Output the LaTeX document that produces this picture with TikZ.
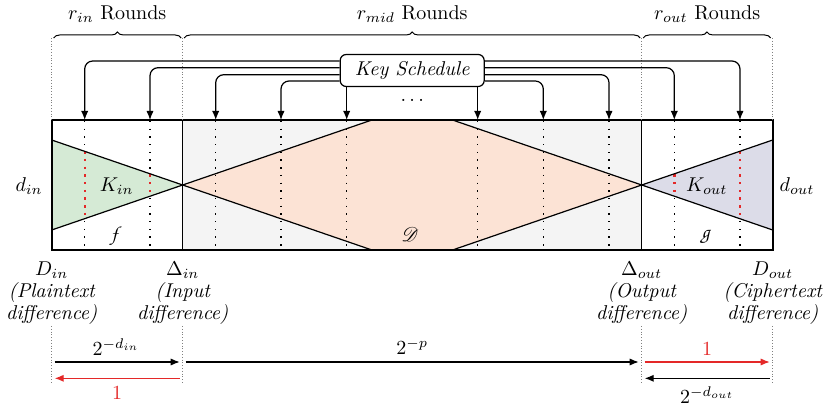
\documentclass[tikz,border=0pt]{standalone}
\usepackage{mathrsfs}
\usetikzlibrary{arrows.meta,decorations.pathreplacing,calc}
\DeclareMathAlphabet{\mathpzc}{OT1}{pzc}{m}{it}
\definecolor{midgray}{RGB}{244,244,244}
\definecolor{peach}{RGB}{252,227,213}
\definecolor{kgreen}{RGB}{213,234,213}
\definecolor{kpurple}{RGB}{220,220,232}
\definecolor{myred}{RGB}{228,40,40}
\begin{document}
\begin{tikzpicture}[x=0.5pt,y=-0.5pt,
  tipstyle/.style={-{Latex[length=4.5pt,width=3.6pt]}},
  ksarrow/.style={tipstyle, line width=0.6pt, rounded corners=4pt},
  rounddot/.style={line width=0.7pt, dash pattern=on 0.7pt off 3.15pt},
  reddot/.style={draw=myred, line width=1.2pt, dash pattern=on 1.2pt off 2.65pt, dash phase=0.25pt},
  bound/.style={gray, line width=0.4pt, densely dotted},
  bracestyle/.style={decorate, decoration={brace, amplitude=3pt}, line width=0.5pt},
  edgeline/.style={line width=0.6pt},
  expl/.style={font=\itshape, align=center, inner sep=0pt},
  barrow/.style={tipstyle, line width=0.6pt, shorten <=1.5pt, shorten >=1.5pt},
  rarrow/.style={barrow, draw=myred, color=myred},
  ]
\useasboundingbox (0,0) rectangle (824,406);
% coordinates
\coordinate (TL) at (51.7,120); \coordinate (TR) at (772.7,120);
\coordinate (BL) at (51.7,250); \coordinate (BR) at (772.7,250);
\coordinate (M1t) at (182.7,120); \coordinate (M1b) at (182.7,250);
\coordinate (M2t) at (641.7,120); \coordinate (M2b) at (641.7,250);
\coordinate (C1) at (182.7,185); \coordinate (C2) at (641.7,185);
\coordinate (Lt) at (51.7,140); \coordinate (Lb) at (51.7,230);
\coordinate (Rt) at (772.7,140); \coordinate (Rb) at (772.7,230);
\coordinate (Pt1) at (371.9,120); \coordinate (Pb1) at (371.9,250);
\coordinate (Pt2) at (452.5,120); \coordinate (Pb2) at (452.5,250);
% fills
\fill[midgray] (M1t) rectangle (M2b);
\fill[peach] (C1) -- (Pt1) -- (Pt2) -- (C2) -- (Pb2) -- (Pb1) -- cycle;
\fill[kgreen] (Lt) -- (C1) -- (Lb) -- cycle;
\fill[kpurple] (Rt) -- (C2) -- (Rb) -- cycle;
% round dotted lines
\foreach \x in {84.7,150,215.7,281,346.7,477.7,543.3,609,674.3,740}
  \draw[rounddot] (\x,121) -- (\x,250);
\begin{scope}
  \clip (Lt) -- (C1) -- (Lb) -- cycle;
  \foreach \x in {84.7,150} \draw[reddot] (\x,121) -- (\x,250);
\end{scope}
\begin{scope}
  \clip (Rt) -- (C2) -- (Rb) -- cycle;
  \foreach \x in {674.3,740} \draw[reddot] (\x,121) -- (\x,250);
\end{scope}
% crossing lines
\draw[edgeline] (Lt) -- (Pb1);
\draw[edgeline] (Lb) -- (Pt1);
\draw[edgeline] (Pt2) -- (Rb);
\draw[edgeline] (Pb2) -- (Rt);
% frame
\draw[line width=0.8pt] (TL) rectangle (BR);
\draw[line width=0.6pt] (M1t) -- (M1b);
\draw[line width=0.6pt] (M2t) -- (M2b);
% top boundaries and braces
\coordinate (B0) at (51.7,38); \coordinate (B1) at (182.7,38);
\coordinate (B2) at (641.7,38); \coordinate (B3) at (772.7,38);
\draw[bound] (B0) -- (TL);
\draw[bound] (B1) -- (M1t);
\draw[bound] (B2) -- (M2t);
\draw[bound] (B3) -- (TR);
\draw[bracestyle] ($(B0)+(2,0)$) -- ($(B1)+(-1.5,0)$);
\draw[bracestyle] ($(B1)+(1.5,0)$) -- ($(B2)+(-1.5,0)$);
\draw[bracestyle] ($(B2)+(1.5,0)$) -- ($(B3)+(-2,0)$);
\node (rin) at (117.2,14) {$r_{in}$ Rounds};
\node (rmid) at (412.2,14) {$r_{mid}$ Rounds};
\node (rout) at (707.2,14) {$r_{out}$ Rounds};
% key schedule
\node[draw, rounded corners=3pt, line width=0.6pt, minimum width=72pt, minimum height=16pt, font=\itshape, fill=white] (ks) at (412.2,70.5) {Key Schedule};
\coordinate (h1) at (0,61); \coordinate (h2) at (0,67.7);
\coordinate (h3) at (0,74.7); \coordinate (h4) at (0,81);
\coordinate (t1) at (84.7,120); \coordinate (t2) at (150,120);
\coordinate (t3) at (215.7,120); \coordinate (t4) at (281,120);
\coordinate (t5) at (346.7,120); \coordinate (t6) at (477.7,120);
\coordinate (t7) at (543.3,120); \coordinate (t8) at (609,120);
\coordinate (t9) at (674.3,120); \coordinate (t10) at (740,120);
\draw[ksarrow] (ks.west |- h1) -| (t1);
\draw[ksarrow] (ks.west |- h2) -| (t2);
\draw[ksarrow] (ks.west |- h3) -| (t3);
\draw[ksarrow] (ks.west |- h4) -| (t4);
\draw[ksarrow] (ks.south -| t5) -- (t5);
\draw[ksarrow] (ks.south -| t6) -- (t6);
\draw[ksarrow] (ks.east |- h4) -| (t7);
\draw[ksarrow] (ks.east |- h3) -| (t8);
\draw[ksarrow] (ks.east |- h2) -| (t9);
\draw[ksarrow] (ks.east |- h1) -| (t10);
\node (dots) at (412.2,100) {$\dots$};
% labels in the diagram
\node (din) at (29,186) {$d_{in}$};
\node (dout) at (797,186) {$d_{out}$};
\node (kin) at (116.7,186) {$K_{in}$};
\node (kout) at (706.7,186) {$K_{out}$};
\node (f) at (116.7,237) {$\mathpzc{f}$};
\node (g) at (706.7,237) {$\mathpzc{g}$};
\node (D) at (410,235) {$\mathscr{D}$};
% bottom labels
\node (Din) at (51.7,270) {$D_{in}$};
\node (Delin) at (182.7,270) {$\Delta_{in}$};
\node (Delout) at (641.7,270) {$\Delta_{out}$};
\node (Dout) at (772.7,270) {$D_{out}$};
\node[expl] (Dinx) at (51.7,303.5) {(Plaintext\\[-1.5pt]difference)};
\node[expl] (Delinx) at (182.7,303.5) {(Input\\[-1.5pt]difference)};
\node[expl] (Deloutx) at (641.7,303.5) {(Output\\[-1.5pt]difference)};
\node[expl] (Doutx) at (772.7,303.5) {(Ciphertext\\[-1.5pt]difference)};
% bottom boundaries
\coordinate (a0) at (51.7,326); \coordinate (a1) at (182.7,326);
\coordinate (a2) at (641.7,326); \coordinate (a3) at (772.7,326);
\coordinate (z0) at (51.7,384); \coordinate (z1) at (182.7,384);
\coordinate (z2) at (641.7,384); \coordinate (z3) at (772.7,384);
\draw[bound] (a0) -- (z0);
\draw[bound] (a1) -- (z1);
\draw[bound] (a2) -- (z2);
\draw[bound] (a3) -- (z3);
% probability arrows
\coordinate (r0) at (51.7,362); \coordinate (r1) at (182.7,362);
\coordinate (r2) at (641.7,362); \coordinate (r3) at (772.7,362);
\coordinate (s0) at (51.7,378.3); \coordinate (s1) at (182.7,378.3);
\coordinate (s2) at (641.7,378.3); \coordinate (s3) at (772.7,378.3);
\draw[barrow] (r0) -- (r1);
\draw[barrow] (r1) -- (r2);
\draw[rarrow] (r2) -- (r3);
\draw[rarrow] (s1) -- (s0);
\draw[barrow] (s3) -- (s2);
\node (p1) at (116,347) {$2^{-d_{in}}$};
\node (p2) at (412.2,347) {$2^{-p}$};
\node[text=myred] (p3) at (707.2,349) {1};
\node[text=myred] (p4) at (117.2,393) {1};
\node (p5) at (707.2,395) {$2^{-d_{out}}$};
\end{tikzpicture}
\end{document}
